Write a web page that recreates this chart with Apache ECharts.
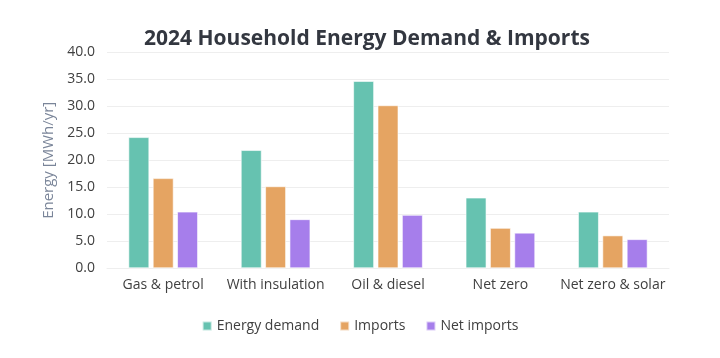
<!DOCTYPE html>
<html><head><meta charset="utf-8">
<script src="https://cdn.jsdelivr.net/npm/echarts@6/dist/echarts.min.js"></script>
<style>html,body{margin:0;padding:0;background:#fff}#c{width:720px;height:358px}</style>
</head><body><div id="c"></div>
<script>
const categories = ["Gas & petrol", "With insulation", "Oil & diesel", "Net zero", "Net zero & solar"];
const energyDemand = [24.3, 21.9, 34.7, 13.1, 10.5];
const imports = [16.7, 15.2, 30.2, 7.5, 6.1];
const netImports = [10.5, 9.1, 9.9, 6.6, 5.4];
const seriesNames = ["Energy demand", "Imports", "Net imports"];
const colors = ["#66c2b0", "#e5a462", "#a67eeb"];

const font = "'Open Sans', Lato, sans-serif";
const chart = echarts.init(document.getElementById('c'));
const mk = (name, data, color) => ({
  name, type: 'bar', data, barWidth: 21, barGap: '16%',
  itemStyle: { color, borderColor: 'rgba(255,255,255,0.6)', borderWidth: 1 }
});
chart.setOption({
  animation: false,
  textStyle: { fontFamily: font },
  title: {
    text: "2024 Household Energy Demand & Imports", left: 362, textAlign: 'center', top: 24,
    textStyle: { fontFamily: font, fontSize: 21, fontWeight: 'bold', color: '#333740' }
  },
  legend: {
    bottom: 20, left: 'center', itemWidth: 9, itemHeight: 9, itemGap: 20,
    icon: 'rect',
    textStyle: { fontFamily: font, fontSize: 14, color: '#404040' }
  },
  grid: { left: 107, right: 51, top: 52.3, bottom: 89.7, containLabel: false },
  xAxis: {
    type: 'category', data: categories,
    axisLine: { lineStyle: { color: '#eeeeee' } },
    axisTick: { show: false },
    axisLabel: { fontFamily: font, fontSize: 14, color: '#404040', margin: 10, interval: 0 }
  },
  yAxis: {
    type: 'value', min: 0, max: 40, interval: 5,
    name: 'Energy [MWh/yr]', nameLocation: 'middle', nameGap: 48,
    nameTextStyle: { fontFamily: font, fontSize: 15, color: '#7a8599' },
    axisLabel: { fontFamily: font, fontSize: 14, color: '#404040', margin: 12,
      formatter: v => v.toFixed(1) },
    splitLine: { lineStyle: { color: '#eeeeee' } },
    axisLine: { show: false }, axisTick: { show: false }
  },
  series: [
    mk(seriesNames[0], energyDemand, colors[0]),
    mk(seriesNames[1], imports, colors[1]),
    mk(seriesNames[2], netImports, colors[2])
  ]
});
</script></body></html>
